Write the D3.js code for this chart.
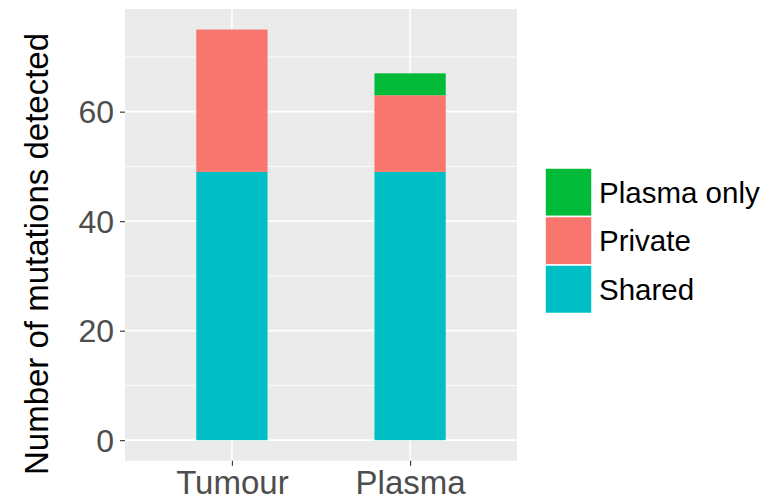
<!DOCTYPE html>
<html>
<head>
<meta charset="utf-8">
<script src="https://cdn.jsdelivr.net/npm/d3@7"></script>
<style>
  html, body { margin: 0; padding: 0; background: #ffffff; }
  svg { display: block; font-family: "Liberation Sans", Arial, sans-serif; }
</style>
</head>
<body>
<svg id="chart" width="781" height="503"></svg>
<script>
// Mutation counts per sample, stacked by class
const samples = ["Tumour", "Plasma"];
const classes = ["Shared", "Private", "Plasma only"];
const shared = [49, 49];
const privateMuts = [26, 14];
const plasmaOnly = [0, 4];
const yTicks = [0, 20, 40, 60];
const yMinor = [10, 30, 50, 70];
const legendOrder = ["Plasma only", "Private", "Shared"];
const colours = { "Shared": "#00BFC4", "Private": "#F8766D", "Plasma only": "#00BA38" };

const svg = d3.select("#chart");
const panel = { left: 125, right: 517, top: 9, bottom: 460.7 };

const rows = samples.map((s, i) => ({
  sample: s,
  "Shared": shared[i],
  "Private": privateMuts[i],
  "Plasma only": plasmaOnly[i]
}));
const stacked = d3.stack().keys(classes)(rows);

const maxTotal = d3.max(rows, r => r["Shared"] + r["Private"] + r["Plasma only"]);
const y = d3.scaleLinear()
  .domain([-0.05 * maxTotal, 1.05 * maxTotal])
  .range([panel.bottom, panel.top]);

// discrete axis with 0.6 unit padding on each side
const xPos = d3.scaleLinear()
  .domain([0.4, samples.length + 0.6])
  .range([panel.left, panel.right]);
const xc = s => xPos(samples.indexOf(s) + 1);
const barW = xPos(1.4) - xPos(1);

// panel background
svg.append("rect")
  .attr("x", panel.left).attr("y", panel.top)
  .attr("width", panel.right - panel.left)
  .attr("height", panel.bottom - panel.top)
  .attr("fill", "#EBEBEB");

// minor gridlines
svg.append("g").selectAll("line").data(yMinor).join("line")
  .attr("x1", panel.left).attr("x2", panel.right)
  .attr("y1", d => y(d)).attr("y2", d => y(d))
  .attr("stroke", "#ffffff").attr("stroke-width", 0.8);

// major gridlines
svg.append("g").selectAll("line").data(yTicks).join("line")
  .attr("x1", panel.left).attr("x2", panel.right)
  .attr("y1", d => y(d)).attr("y2", d => y(d))
  .attr("stroke", "#ffffff").attr("stroke-width", 1.6);
svg.append("g").selectAll("line").data(samples).join("line")
  .attr("x1", d => xc(d)).attr("x2", d => xc(d))
  .attr("y1", panel.top).attr("y2", panel.bottom)
  .attr("stroke", "#ffffff").attr("stroke-width", 1.6);

// stacked bars
svg.append("g").selectAll("g").data(stacked).join("g")
  .attr("fill", d => colours[d.key])
  .selectAll("rect").data(d => d.filter(p => p[1] > p[0])).join("rect")
  .attr("x", d => xc(d.data.sample) - barW / 2)
  .attr("width", barW)
  .attr("y", d => y(d[1]))
  .attr("height", d => y(d[0]) - y(d[1]));

// y axis
const yAxis = svg.append("g")
  .attr("transform", `translate(${panel.left},0)`)
  .call(d3.axisLeft(y).tickValues(yTicks).tickSize(5).tickPadding(6).tickFormat(d3.format("d")));
yAxis.select(".domain").remove();
yAxis.selectAll(".tick line").attr("stroke", "#333333").attr("stroke-width", 1.1);
yAxis.selectAll(".tick text")
  .attr("fill", "#4D4D4D").attr("font-size", 32)
  .attr("font-family", "Liberation Sans, Arial, sans-serif")
  .attr("dy", "0.35em");

// x axis
const xBand = d3.scalePoint().domain(samples).range([xc(samples[0]), xc(samples[1])]);
const xAxis = svg.append("g")
  .attr("transform", `translate(0,${panel.bottom})`)
  .call(d3.axisBottom(xBand).tickSize(5).tickPadding(5));
xAxis.select(".domain").remove();
xAxis.selectAll(".tick line").attr("stroke", "#333333").attr("stroke-width", 1.1);
xAxis.selectAll(".tick text")
  .attr("fill", "#4D4D4D").attr("font-size", 33)
  .attr("font-family", "Liberation Sans, Arial, sans-serif");

// y axis title
svg.append("text")
  .attr("transform", `translate(48,254) rotate(-90)`)
  .attr("text-anchor", "middle")
  .attr("font-size", 33)
  .attr("fill", "#000000")
  .text("Number of mutations detected");

// legend
const keyH = 48.5, keyW = 47;
const legend = svg.append("g").attr("transform", "translate(545,168)");
const items = legend.selectAll("g").data(legendOrder).join("g")
  .attr("transform", (d, i) => `translate(0,${i * keyH})`);
items.append("rect")
  .attr("width", keyW).attr("height", keyH)
  .attr("fill", d => colours[d])
  .attr("stroke", "#ffffff").attr("stroke-width", 1.5);
items.append("text")
  .attr("x", keyW + 7).attr("y", keyH / 2)
  .attr("dy", "0.35em")
  .attr("font-size", 29.5)
  .attr("fill", "#000000")
  .text(d => d);
</script>
</body>
</html>
